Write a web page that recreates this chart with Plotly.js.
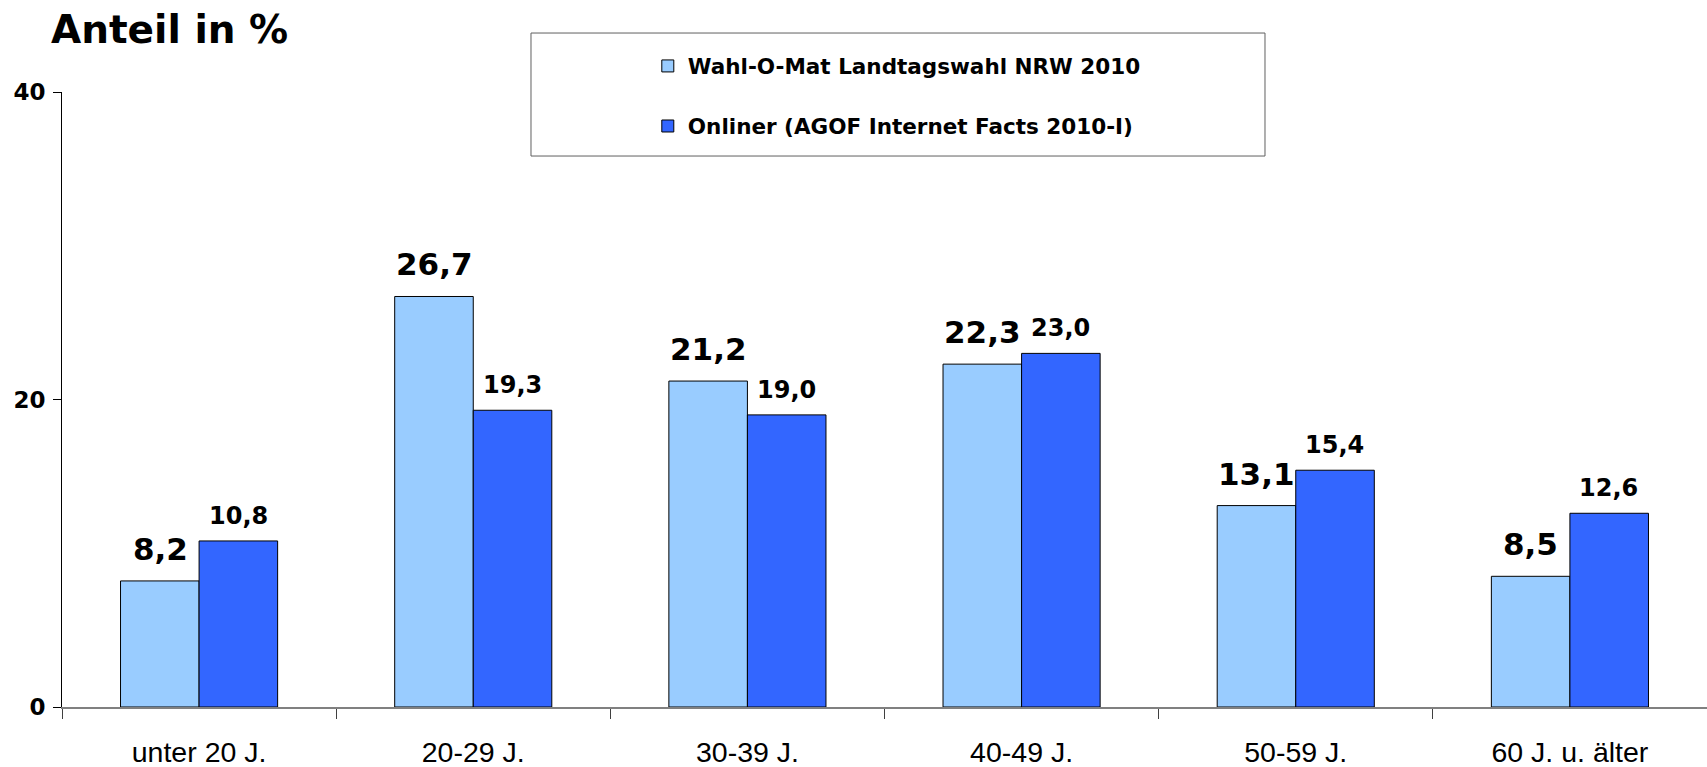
<!DOCTYPE html>
<html>
<head>
<meta charset="utf-8">
<script src="https://cdn.plot.ly/plotly-3.0.1.min.js"></script>
<style>
  html, body { margin: 0; padding: 0; background: #fff; }
  #chart { width: 1707px; height: 767px; }
</style>
</head>
<body>
<div id="chart"></div>
<script>
const categories = ['unter 20 J.', '20-29 J.', '30-39 J.', '40-49 J.', '50-59 J.', '60 J. u. älter'];
const wahlomat = [8.2, 26.7, 21.2, 22.3, 13.1, 8.5];
const onliner = [10.8, 19.3, 19.0, 23.0, 15.4, 12.6];
const seriesNames = ['Wahl-O-Mat Landtagswahl NRW 2010', 'Onliner (AGOF Internet Facts 2010-I)'];
const yTicks = [0, 20, 40];

const fmt = v => v.toFixed(1).replace('.', ',');

const traceA = {
  type: 'bar', x: categories, y: wahlomat, name: seriesNames[0],
  marker: { color: '#99CCFF', line: { color: '#000000', width: 1 } },
  legend: 'legend', hoverinfo: 'skip'
};
const traceB = {
  type: 'bar', x: categories, y: onliner, name: seriesNames[1],
  marker: { color: '#3366FF', line: { color: '#000000', width: 1 } },
  legend: 'legend2', hoverinfo: 'skip'
};

const annA = categories.map((c, i) => ({
  x: c, y: wahlomat[i], xref: 'x', yref: 'y', text: fmt(wahlomat[i]),
  showarrow: false, xshift: -39, yanchor: 'bottom', yshift: 12,
  font: { family: 'DejaVu Sans', size: 31, color: '#000', weight: 'bold' }
}));
const annB = categories.map((c, i) => ({
  x: c, y: onliner[i], xref: 'x', yref: 'y', text: fmt(onliner[i]),
  showarrow: false, xshift: 39, yanchor: 'bottom', yshift: 9,
  font: { family: 'DejaVu Sans', size: 24, color: '#000', weight: 'bold' }
}));

const legendFont = { family: 'DejaVu Sans', size: 21.5, color: '#000', weight: 'bold' };

const layout = {
  width: 1707, height: 767,
  margin: { l: 62, r: 0, t: 92, b: 60, autoexpand: false },
  paper_bgcolor: '#fff', plot_bgcolor: '#fff',
  barmode: 'group', bargap: 0.427, bargroupgap: 0,
  title: {
    text: 'Anteil in %', xref: 'container', yref: 'container', automargin: false,
    x: 0.0299, xanchor: 'left', y: 0.962, yanchor: 'middle', pad: { t: 0, b: 0, l: 0, r: 0 },
    font: { family: 'DejaVu Sans', size: 39, color: '#000', weight: 'bold' }
  },
  xaxis: {
    type: 'category', range: [-0.5, 5.5], showline: true, linecolor: '#808080', linewidth: 2,
    ticks: 'outside', ticklen: 10, tickcolor: '#404040', tickwidth: 1, tickson: 'boundaries',
    tickangle: 0, automargin: false,
    tickfont: { family: 'Liberation Sans', size: 28.5, color: '#000' },
    ticklabelstandoff: 19, showgrid: false, zeroline: false, fixedrange: true
  },
  yaxis: {
    range: [0, 40], tickvals: yTicks, ticktext: yTicks.map(String), showline: true, automargin: false,
    linecolor: '#000', linewidth: 1, ticks: 'outside', ticklen: 8, tickcolor: '#000',
    tickfont: { family: 'DejaVu Sans', size: 23, color: '#000', weight: 'bold' },
    ticklabelstandoff: 3, showgrid: false, zeroline: false, fixedrange: true
  },
  showlegend: true,
  legend: {
    xref: 'container', yref: 'container', x: 0.3795, xanchor: 'left', y: 0.914, yanchor: 'middle',
    bgcolor: 'rgba(0,0,0,0)', borderwidth: 0, font: legendFont
  },
  legend2: {
    xref: 'container', yref: 'container', x: 0.3795, xanchor: 'left', y: 0.8357, yanchor: 'middle',
    bgcolor: 'rgba(0,0,0,0)', borderwidth: 0, font: legendFont
  },
  shapes: [{
    type: 'rect', xref: 'paper', yref: 'paper', x0: 0.2851, x1: 0.7313, y0: 0.8959, y1: 1.0959,
    line: { color: '#606060', width: 1 }, fillcolor: 'rgba(0,0,0,0)', layer: 'above'
  }],
  annotations: annA.concat(annB)
};

Plotly.newPlot('chart', [traceA, traceB], layout, { displayModeBar: false, staticPlot: true });
</script>
</body>
</html>
